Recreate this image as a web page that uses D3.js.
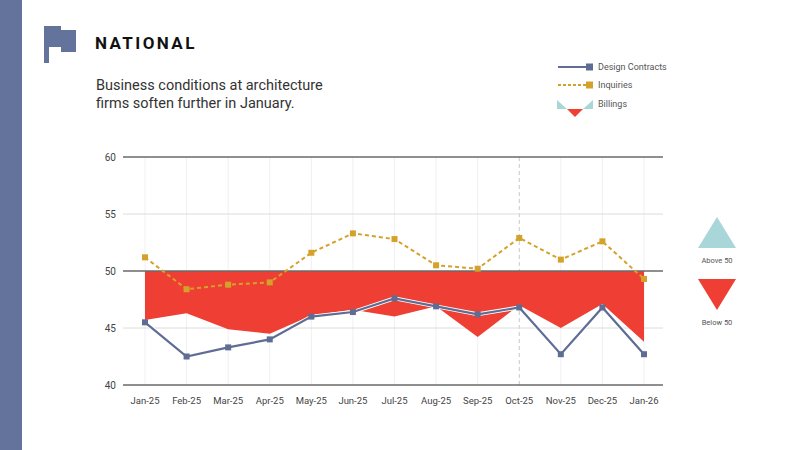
<!DOCTYPE html>
<html>
<head>
    <style type="text/css">
        body { margin: 0; background: #fff; }
        #mySvg { width: 800px; height: 450px; display: block; }
        text { font-family: Roboto, "Noto Sans", sans-serif; }
        .tick-label { font-size: 10px; fill: #444; }
        .legend-label { font-size: 9px; fill: #555; }
    </style>
    <script src="https://d3js.org/d3.v7.min.js"></script>
</head>
<body>
    <svg id="mySvg"></svg>
</body>
<script type="text/javascript">
// Data
const months = ['Jan-25', 'Feb-25', 'Mar-25', 'Apr-25', 'May-25', 'Jun-25', 'Jul-25',
                'Aug-25', 'Sep-25', 'Oct-25', 'Nov-25', 'Dec-25', 'Jan-26'];
const designContracts = [45.5, 42.5, 43.3, 44.0, 46.0, 46.4, 47.6, 46.9, 46.2, 46.8, 42.7, 46.8, 42.7];
const inquiries = [51.2, 48.4, 48.8, 49.0, 51.6, 53.3, 52.8, 50.5, 50.2, 52.9, 51.0, 52.6, 49.3];
const billings = [45.7, 46.3, 44.9, 44.5, 46.1, 46.6, 46.0, 46.9, 44.2, 47.0, 45.0, 47.1, 43.8];
const yTicks = [40, 45, 50, 55, 60];
const markedMonth = 'Oct-25';

const svg = d3.select('#mySvg');

// left band + flag
svg.append('rect').attr('x', 0).attr('y', 0).attr('width', 22).attr('height', 450).attr('fill', '#64739b');
svg.append('path')
    .attr('d', 'M44,26 L61,26 L61,30 L76,30 L76,52 L61,52 L61,47 L49,47 L49,63 L44,63 Z')
    .attr('fill', '#64739b');

svg.append('text').attr('x', 95).attr('y', 49)
    .style('font-size', '17px').style('font-weight', 'bold').style('letter-spacing', '2.4px')
    .attr('fill', '#111').text('NATIONAL');

svg.append('text').attr('x', 96).attr('y', 90)
    .style('font-size', '14.5px').attr('fill', '#333')
    .selectAll('tspan')
    .data(['Business conditions at architecture', 'firms soften further in January.'])
    .join('tspan')
    .attr('x', 96)
    .attr('dy', (d, i) => i ? 18 : 0)
    .text(d => d);

// scales
const x = d3.scalePoint().domain(months).range([145, 644]);
const y = d3.scaleLinear().domain([40, 60]).range([385, 157]);
const left = 123, right = 663;

// vertical + light horizontal grid, behind the billings area
svg.append('g').selectAll('line')
    .data(months)
    .join('line')
    .attr('x1', d => x(d)).attr('x2', d => x(d))
    .attr('y1', y(60)).attr('y2', y(40))
    .attr('stroke', d => d === markedMonth ? '#c8c8c8' : '#f0f0f0')
    .attr('stroke-dasharray', d => d === markedMonth ? '4,3' : null)
    .attr('stroke-width', 1);

svg.append('g').selectAll('line')
    .data(yTicks.filter(d => d % 10 !== 0))
    .join('line')
    .attr('x1', left).attr('x2', right)
    .attr('y1', d => y(d)).attr('y2', d => y(d))
    .attr('stroke', '#dcdcdc')
    .attr('stroke-width', 1);

// billings area (below 50)
const area = d3.area()
    .x((d, i) => x(months[i]))
    .y0(y(50))
    .y1(d => y(d));
svg.append('path')
    .datum(billings)
    .attr('d', area)
    .attr('fill', '#ef3e33');

svg.append('g').selectAll('line')
    .data(yTicks.filter(d => d % 10 === 0))
    .join('line')
    .attr('x1', left).attr('x2', right)
    .attr('y1', d => y(d)).attr('y2', d => y(d))
    .attr('stroke', '#6a6a6a')
    .attr('stroke-width', 1.6);

svg.append('g').selectAll('text')
    .data(yTicks)
    .join('text')
    .attr('class', 'tick-label')
    .attr('x', 116).attr('y', d => y(d) + 4)
    .attr('text-anchor', 'end')
    .text(d => d);

svg.append('g').selectAll('text')
    .data(months)
    .join('text')
    .attr('class', 'tick-label')
    .style('font-size', '9.5px')
    .attr('x', d => x(d)).attr('y', 404)
    .attr('text-anchor', 'middle')
    .text(d => d);

const line = d3.line().x((d, i) => x(months[i])).y(d => y(d));

// inquiries
svg.append('path')
    .datum(inquiries)
    .attr('d', line)
    .attr('fill', 'none')
    .attr('stroke', '#d4a22b')
    .attr('stroke-width', 2)
    .attr('stroke-dasharray', '4,3');
svg.append('g').selectAll('rect')
    .data(inquiries)
    .join('rect')
    .attr('x', (d, i) => x(months[i]) - 3).attr('y', d => y(d) - 3)
    .attr('width', 6).attr('height', 6)
    .attr('fill', '#d4a22b');

// design contracts, with a white halo
svg.append('path')
    .datum(designContracts)
    .attr('d', line)
    .attr('fill', 'none')
    .attr('stroke', '#fff')
    .attr('stroke-width', 4);
svg.append('path')
    .datum(designContracts)
    .attr('d', line)
    .attr('fill', 'none')
    .attr('stroke', '#5f6d94')
    .attr('stroke-width', 2.2);
svg.append('g').selectAll('rect')
    .data(designContracts)
    .join('rect')
    .attr('x', (d, i) => x(months[i]) - 3).attr('y', d => y(d) - 3)
    .attr('width', 6).attr('height', 6)
    .attr('fill', '#5f6d94');

// top legend
const lg = svg.append('g');
lg.append('line').attr('x1', 558).attr('x2', 587).attr('y1', 67).attr('y2', 67)
    .attr('stroke', '#5f6d94').attr('stroke-width', 2);
lg.append('rect').attr('x', 586).attr('y', 63.5).attr('width', 7).attr('height', 7).attr('fill', '#5f6d94');
lg.append('text').attr('class', 'legend-label').attr('x', 598).attr('y', 70).text('Design Contracts');

lg.append('line').attr('x1', 558).attr('x2', 587).attr('y1', 85).attr('y2', 85)
    .attr('stroke', '#d4a22b').attr('stroke-width', 2).attr('stroke-dasharray', '3,2');
lg.append('rect').attr('x', 586).attr('y', 81.5).attr('width', 7).attr('height', 7).attr('fill', '#d4a22b');
lg.append('text').attr('class', 'legend-label').attr('x', 598).attr('y', 88).text('Inquiries');

lg.append('path').attr('d', 'M557,100 L557,109 L567,109 Z').attr('fill', '#a9d6d9');
lg.append('path').attr('d', 'M583,109 L593,100 L593,109 Z').attr('fill', '#a9d6d9');
lg.append('path').attr('d', 'M567,109 L575,117 L583,109 Z').attr('fill', '#ef3e33');
lg.append('text').attr('class', 'legend-label').attr('x', 598).attr('y', 107).text('Billings');

// right legend
const rl = svg.append('g');
rl.append('path').attr('d', 'M698,248 L736,248 L717,217 Z').attr('fill', '#a9d6d9');
rl.append('text').attr('class', 'legend-label').style('font-size', '7.5px')
    .attr('x', 717).attr('y', 263).attr('text-anchor', 'middle').text('Above 50');
rl.append('path').attr('d', 'M698,279 L736,279 L717,310 Z').attr('fill', '#ef3e33');
rl.append('text').attr('class', 'legend-label').style('font-size', '7.5px')
    .attr('x', 717).attr('y', 325).attr('text-anchor', 'middle').text('Below 50');
</script>
</html>
